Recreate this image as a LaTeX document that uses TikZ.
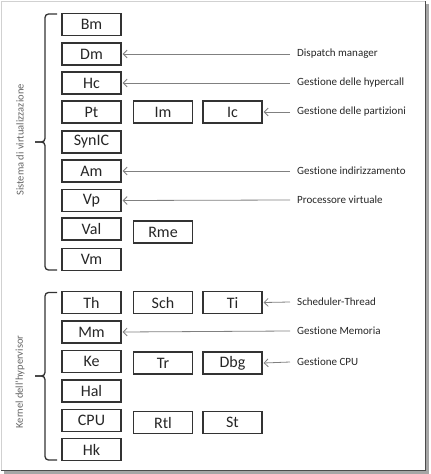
\documentclass[tikz,border=0pt]{standalone}
\usepackage{fontspec}
\setmainfont{Carlito}[Ligatures={NoCommon,NoContextual}, Contextuals={NoAlternate}]
\usetikzlibrary{arrows.meta}
\tikzset{
  box/.style={draw=black!80, line width=1.3pt, minimum width=59pt, minimum height=22pt, inner sep=0pt, text=black!85, font=\fontsize{16}{16}\selectfont},
  lbl/.style={anchor=west, inner sep=0pt, text=black!85, font=\fontsize{11}{12}\selectfont},
  side/.style={inner sep=0pt, text=black!60, font=\fontsize{10.5}{11}\selectfont, rotate=90},
  arr/.style={draw=black!50, line width=0.8pt, -{Straight Barb[length=4pt,width=8pt]}},
  brace/.style={draw=black!80, line width=1.3pt, rounded corners=3.5pt}
}
\begin{document}
\begin{tikzpicture}[x=1pt,y=-1pt]
\useasboundingbox (0,0) rectangle (431,474);
% frame
\fill[black!35] (4,4) rectangle (428.5,473.5);
\fill[white] (1,1) rectangle (425.5,470.5);
\draw[black!18, line width=0.8pt] (1,470.5) -- (1,1) -- (425.5,1);
\draw[black!70, line width=1pt] (425.5,1) -- (425.5,470.5) -- (1,470.5);
% upper group
\node[box] (Bm) at (91.5,24.5) {Bm};
\node[box] (Dm) at (91.5,54) {Dm};
\node[box] (Hc) at (91.5,83) {Hc};
\node[box] (Pt) at (91.5,112) {Pt};
\node[box] (Im) at (163,112) {Im};
\node[box] (Ic) at (232.5,112) {Ic};
\node[box] (SynIC) at (91.5,142) {SynIC};
\node[box] (Am) at (91.5,171) {Am};
\node[box] (Vp) at (91.5,200.5) {Vp};
\node[box] (Val) at (91.5,229) {Val};
\node[box] (Rme) at (163,232) {Rme};
\node[box] (Vm) at (91.5,259.5) {Vm};
% lower group
\node[box] (Th) at (91.5,302.5) {Th};
\node[box] (Sch) at (163,302.5) {Sch};
\node[box] (Ti) at (232.5,302.5) {Ti};
\node[box] (Mm) at (91.5,332) {Mm};
\node[box] (Ke) at (91.5,361.5) {Ke};
\node[box] (Tr) at (163,363) {Tr};
\node[box] (Dbg) at (232.5,363) {Dbg};
\node[box] (Hal) at (91.5,391) {Hal};
\node[box] (CPU) at (91.5,420.5) {CPU};
\node[box] (Rtl) at (163,422.5) {Rtl};
\node[box] (St) at (232.5,422.5) {St};
\node[box] (Hk) at (91.5,449.5) {Hk};
% labels
\node[lbl] (lDm) at (297,54) {Dispatch manager};
\node[lbl] (lHc) at (297,83) {Gestione delle hypercall};
\node[lbl] (lPt) at (297,112) {Gestione delle partizioni};
\node[lbl] (lAm) at (297,171) {Gestione indirizzamento};
\node[lbl] (lVp) at (297,200) {Processore virtuale};
\node[lbl] (lTh) at (297,302) {Scheduler-Thread};
\node[lbl] (lMm) at (297,331) {Gestione Memoria};
\node[lbl] (lKe) at (297,362) {Gestione CPU};
% arrows
\draw[arr] ([xshift=-7pt]lDm.west) -- ([xshift=1pt]Dm.east);
\draw[arr] ([xshift=-7pt]lHc.west) -- ([xshift=1pt]Hc.east);
\draw[arr] ([xshift=-7pt]lPt.west) -- ([xshift=1pt]Ic.east);
\draw[arr] ([xshift=-7pt]lAm.west) -- ([xshift=1pt]Am.east);
\draw[arr] ([xshift=-7pt]lVp.west) -- ([xshift=1pt]Vp.east);
\draw[arr] ([xshift=-7pt]lTh.west) -- ([xshift=1pt]Ti.east);
\draw[arr] ([xshift=-7pt]lMm.west) -- ([xshift=1pt]Mm.east);
\draw[arr] ([xshift=-7pt]lKe.west) -- ([xshift=1pt]Dbg.east);
% braces
\coordinate (t1) at (57,14);
\coordinate (b1) at (57,270);
\coordinate (p1) at (35,142);
\draw[brace] (t1) -- (45,14) -- (45,142) -- (p1);
\draw[brace] (b1) -- (45,270) -- (45,142) -- (p1);
\coordinate (t2) at (57,292.5);
\coordinate (b2) at (57,460);
\coordinate (p2) at (35,376);
\draw[brace] (t2) -- (45,292.5) -- (45,376) -- (p2);
\draw[brace] (b2) -- (45,460) -- (45,376) -- (p2);
% side labels
\node[side] (s1) at (20,140) {Sistema di virtualizzazione};
\node[side] (s2) at (20,382) {Kernel dell'hypervisor};
\end{tikzpicture}
\end{document}
